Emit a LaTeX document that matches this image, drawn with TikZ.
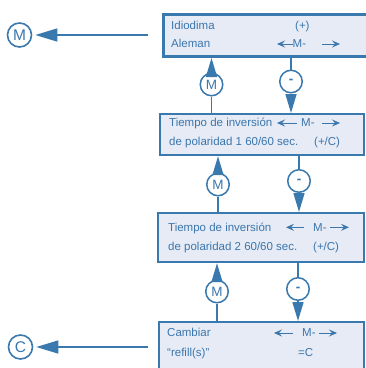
\documentclass[tikz,border=0pt]{standalone}
\usepackage{fontspec}
\setmainfont{Liberation Sans}
\usetikzlibrary{arrows.meta}
\definecolor{bord}{HTML}{3A79AE}
\definecolor{boxfill}{HTML}{E6EBF5}
\definecolor{txt}{HTML}{3B76AD}
\tikzset{
 box/.style={draw=bord, fill=boxfill, line width=2.2pt, rectangle, anchor=north west, inner sep=0pt},
 lbl/.style={anchor=base west, inner sep=0pt, text=txt, font=\fontsize{11.5}{13}\selectfont},
 smallc/.style={circle, draw=bord, fill=white, line width=1.5pt, minimum size=22.5pt, inner sep=0pt, text=txt, font=\fontsize{13.5}{13.5}\selectfont},
 bigc/.style={circle, draw=bord, fill=white, line width=1.6pt, minimum size=24pt, inner sep=0pt, text=txt, font=\fontsize{15.5}{15.5}\selectfont},
 conn/.style={draw=bord, line width=1.5pt},
 headar/.style={conn, -{Triangle[length=19pt,width=11pt]}},
 bigar/.style={conn, -{Triangle[length=22pt,width=13pt]}, shorten >=3pt},
 txtar/.style={draw=txt, line width=1pt, -{Stealth[length=8pt,width=7pt,inset=3pt]}},
}
\newcommand{\mydash}{\raisebox{-1.2pt}{\textbf{-}}}
\begin{document}
\begin{tikzpicture}[x=1pt,y=-1pt]
\useasboundingbox (0,0) rectangle (366,368);
\clip (0,0) rectangle (366,368);
% boxes
\node[box, line width=3pt, minimum width=240pt, minimum height=42pt] (b1) at (162,13) {};
\node[box, minimum width=204pt, minimum height=41pt] (b2) at (159,113) {};
\node[box, minimum width=206pt, minimum height=49pt] (b3) at (157,212) {};
\node[box, minimum width=205pt, minimum height=64pt] (b4) at (158,321) {};
% box 1 text
\node[lbl] (t11) at (171,29) {Idiodima};
\node[lbl] (t12) at (295,29) {(+)};
\node[lbl] (t13) at (171,47.7) {Aleman};
\node[lbl] (t14) at (292.5,47.7) {M-};
\draw[txtar] (293,44) -- (277,44);
\draw[txtar] (322,44) -- (340,44);
% box 2 text
\node[lbl] (t21) at (169,126.7) {Tiempo de inversión};
\node[lbl] (t22) at (301,126.7) {M-};
\node[lbl] (t23) at (169,145.7) {de polaridad 1 60/60 sec.};
\node[lbl] (t24) at (314,145.7) {(+/C)};
\draw[txtar] (297,123) -- (277,123);
\draw[txtar] (322,123) -- (340,123);
% box 3 text
\node[lbl] (t31) at (168,231) {Tiempo de inversión};
\node[lbl] (t32) at (313,231) {M-};
\node[lbl] (t33) at (168,250) {de polaridad 2 60/60 sec.};
\node[lbl] (t34) at (313,250) {(+/C)};
\draw[txtar] (304,227.3) -- (286,227.3);
\draw[txtar] (330,227.3) -- (349,227.3);
% box 4 text
\node[lbl] (t41) at (167,336.7) {Cambiar};
\node[lbl] (t42) at (302,336.7) {M-};
\node[lbl] (t43) at (167,356) {“refill(s)”};
\node[lbl] (t44) at (298,356) {=C};
\draw[txtar] (293,333) -- (274,333);
\draw[txtar] (319,333) -- (337,333);
% circles between boxes
\node[smallc] (m1) at (211.5,84.5) {M};
\node[smallc] (n1) at (291,81.5) {\mydash};
\node[smallc] (m2) at (218,184.5) {M};
\node[smallc] (n2) at (299,181) {\mydash};
\node[smallc] (m3) at (217,291.5) {M};
\node[smallc] (n3) at (298,289) {\mydash};
% connectors
\draw[headar] (m1.north) -- (b1.south -| m1);
\draw[conn] (m1.south) -- (b2.north -| m1);
\draw[conn] (n1.north) -- (b1.south -| n1);
\draw[headar] (n1.south) -- (b2.north -| n1);
\draw[headar] (m2.north) -- (b2.south -| m2);
\draw[conn] (m2.south) -- (b3.north -| m2);
\draw[conn] (n2.north) -- (b2.south -| n2);
\draw[headar] (n2.south) -- (b3.north -| n2);
\draw[headar] (m3.north) -- (b3.south -| m3);
\draw[conn] (m3.south) -- (b4.north -| m3);
\draw[conn] (n3.north) -- (b3.south -| n3);
\draw[headar] (n3.south) -- (b4.north -| n3);
% side outputs
\node[bigc] (bm) at (19.5,35) {M};
\node[bigc] (bc) at (20.5,347) {C};
\coordinate (s1) at (148,35);
\coordinate (s4) at (148,347);
\draw[bigar] (s1) -- (bm.east);
\draw[bigar] (s4) -- (bc.east);
\end{tikzpicture}
\end{document}
